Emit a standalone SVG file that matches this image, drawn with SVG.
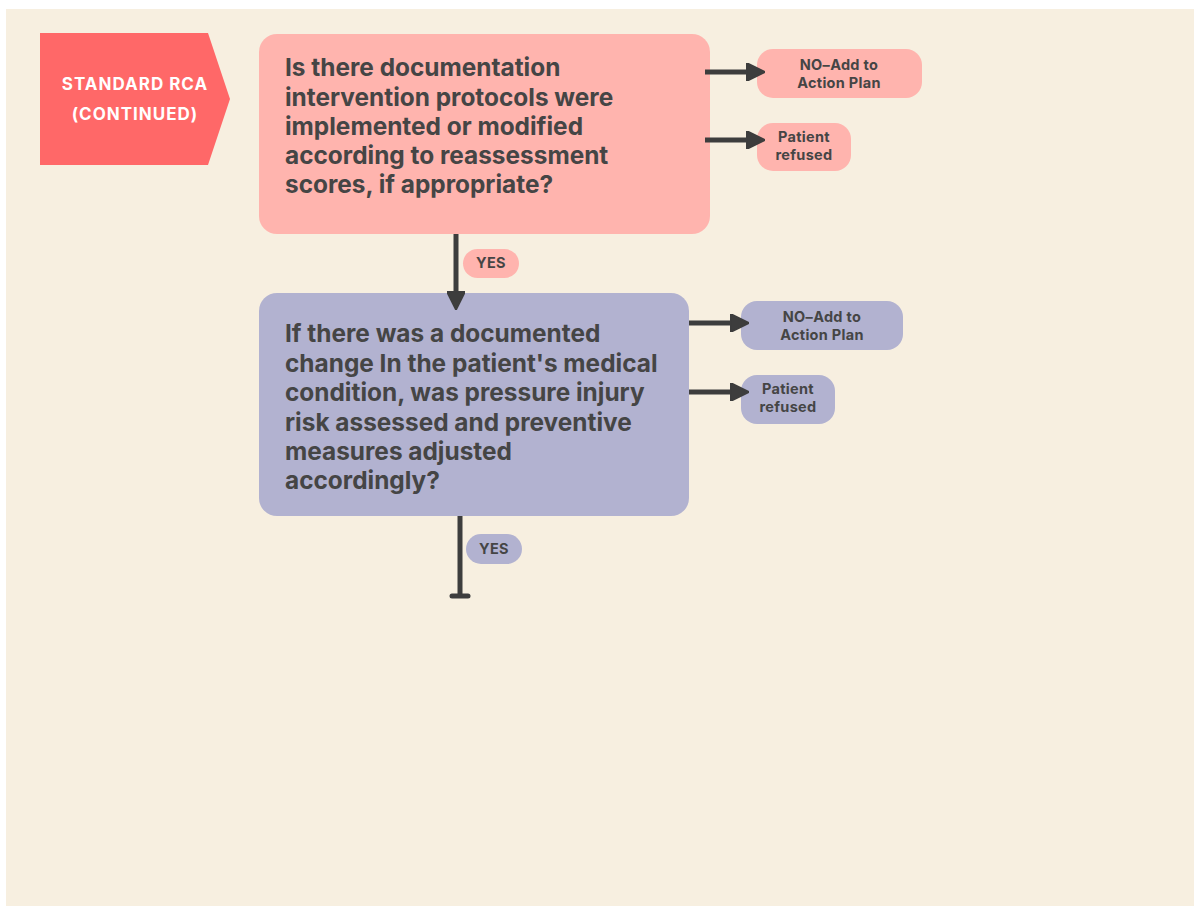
<svg xmlns="http://www.w3.org/2000/svg" width="1197" height="907" viewBox="0 0 1197 907">
<defs>
<style>
.q{font-family:Inter,"Liberation Sans",sans-serif;font-weight:700;font-size:24.4px;fill:#454545}
.s{font-family:Inter,"Liberation Sans",sans-serif;font-weight:700;font-size:14.5px;letter-spacing:0.3px;fill:#454545;text-anchor:middle}
.h{font-family:Inter,"Liberation Sans",sans-serif;font-weight:700;font-size:17px;letter-spacing:1px;fill:#ffffff;text-anchor:middle}
.c{stroke:#3d3d3d;stroke-width:5;fill:none}
.pink{fill:#ffb4ae}
.lav{fill:#b2b2d0}
</style>
<marker id="ah" viewBox="0 0 10 10" refX="8" refY="5" markerWidth="3.7" markerHeight="3.7" orient="auto" markerUnits="strokeWidth">
<path d="M0,0 L10,5 L0,10 z" fill="#3d3d3d" stroke="#3d3d3d" stroke-width="1" stroke-linejoin="round"/>
</marker>
</defs>
<rect x="0" y="0" width="1197" height="907" fill="#ffffff"/>
<rect x="6" y="9" width="1188" height="897" fill="#f7efe0"/>
<g id="header">
<polygon points="40,33 208,33 230,99 208,165 40,165" fill="#ff6868"/>
<text class="h" x="135" y="90">STANDARD RCA</text>
<text class="h" x="135" y="120">(CONTINUED)</text>
</g>
<g id="q1">
<rect class="pink" x="259" y="34" width="451" height="200" rx="18"/>
<text class="q" x="285" y="76">Is there documentation</text>
<text class="q" x="285" y="106">intervention protocols were</text>
<text class="q" x="285" y="135">implemented or modified</text>
<text class="q" x="285" y="164">according to reassessment</text>
<text class="q" x="285" y="193">scores, if appropriate?</text>
</g>
<g id="q1-no">
<rect class="pink" x="757" y="49" width="165" height="49" rx="16"/>
<text class="s" x="839" y="70">NO–Add to</text>
<text class="s" x="839" y="88">Action Plan</text>
</g>
<g id="q1-refused">
<rect class="pink" x="757" y="123" width="94" height="48" rx="16"/>
<text class="s" x="804" y="142">Patient</text>
<text class="s" x="804" y="160">refused</text>
</g>
<g id="q2">
<rect class="lav" x="259" y="293" width="430" height="223" rx="18"/>
<text class="q" x="285" y="342">If there was a documented</text>
<text class="q" x="285" y="372">change In the patient's medical</text>
<text class="q" x="285" y="401">condition, was pressure injury</text>
<text class="q" x="285" y="431">risk assessed and preventive</text>
<text class="q" x="285" y="460">measures adjusted</text>
<text class="q" x="285" y="489">accordingly?</text>
</g>
<g id="q2-no">
<rect class="lav" x="741" y="301" width="162" height="49" rx="16"/>
<text class="s" x="822" y="322">NO–Add to</text>
<text class="s" x="822" y="340">Action Plan</text>
</g>
<g id="q2-refused">
<rect class="lav" x="741" y="375" width="94" height="49" rx="16"/>
<text class="s" x="788" y="394">Patient</text>
<text class="s" x="788" y="412">refused</text>
</g>
<g id="yes1">
<rect class="pink" x="463" y="249" width="56" height="29" rx="14.5"/>
<text class="s" x="491" y="268">YES</text>
</g>
<g id="yes2">
<rect class="lav" x="466" y="534" width="56" height="30" rx="15"/>
<text class="s" x="494" y="554">YES</text>
</g>
<g id="connectors">
<line class="c" x1="705" y1="72" x2="761" y2="72" marker-end="url(#ah)"/>
<line class="c" x1="705" y1="140" x2="761" y2="140" marker-end="url(#ah)"/>
<line class="c" x1="689" y1="323" x2="745" y2="323" marker-end="url(#ah)"/>
<line class="c" x1="689" y1="392" x2="745" y2="392" marker-end="url(#ah)"/>
<line class="c" x1="456" y1="234" x2="456" y2="306" marker-end="url(#ah)"/>
<line class="c" x1="460" y1="516" x2="460" y2="596"/>
<line class="c" x1="452" y1="596" x2="468" y2="596" stroke-linecap="round"/>
</g>
</svg>
